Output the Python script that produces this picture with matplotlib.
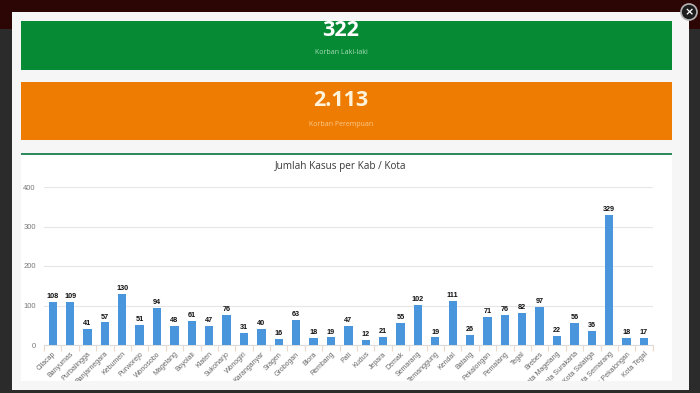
import matplotlib.pyplot as plt
from matplotlib.patches import Rectangle, Circle
from matplotlib.transforms import Bbox

kab_kota = ['Cilacap', 'Banyumas', 'Purbalingga', 'Banjarnegara', 'Kebumen', 'Purworejo', 'Wonosobo',
            'Magelang', 'Boyolali', 'Klaten', 'Sukoharjo', 'Wonogiri', 'Karanganyar', 'Sragen',
            'Grobogan', 'Blora', 'Rembang', 'Pati', 'Kudus', 'Jepara', 'Demak', 'Semarang',
            'Temanggung', 'Kendal', 'Batang', 'Pekalongan', 'Pemalang', 'Tegal', 'Brebes',
            'Kota Magelang', 'Kota Surakarta', 'Kota Salatiga', 'Kota Semarang', 'Kota Pekalongan',
            'Kota Tegal']
kasus = [108, 109, 41, 57, 130, 51, 94, 48, 61, 47, 76, 31, 40, 16, 63, 18, 19, 47, 12, 21, 55,
         102, 19, 111, 26, 71, 76, 82, 97, 22, 56, 36, 329, 18, 17]
y_ticks = [0, 100, 200, 300, 400]

W, H = 700, 393
fig = plt.figure(figsize=(W / 100, H / 100), dpi=100, facecolor='#2b2b2b')

# page behind the chart, in pixel coordinates
bg = fig.add_axes([0, 0, 1, 1])
bg.set_xlim(0, W)
bg.set_ylim(H, 0)
bg.axis('off')


def box(x, y, w, h, color, z=1):
    bg.add_patch(Rectangle((x, y), w, h, facecolor=color, edgecolor='none', zorder=z))


box(0, 0, W, 12, '#2c0604')
box(0, 12, 12, 17, '#2c0604')
box(689, 12, 11, 17, '#2c0604')
box(12, 12, 677, 378, '#f6f6f6', 2)
box(21, 21, 651, 49, '#068a34', 3)
box(21, 82, 651, 58, '#ee7c02', 3)
box(21, 155, 651, 226, '#ffffff', 3)
box(21, 152.5, 651, 2, '#2f8a5c', 4)

sans = ['Open Sans', 'DejaVu Sans']
bg.text(341, 31, '322', color='white', fontsize=15.5, fontweight='bold', family=sans,
        ha='center', va='center', zorder=5, clip_on=True,
        clip_box=Bbox([[21, H - 70], [672, H - 21]]))
bg.text(341, 52, 'Korban Laki-laki', color='#a8dcb8', fontsize=5, family=sans,
        ha='center', va='center', zorder=5)
bg.text(341, 101, '2.113', color='#fff3dc', fontsize=15.5, fontweight='bold', family=sans,
        ha='center', va='center', zorder=5)
bg.text(341, 124, 'Korban Perempuan', color='#fbc98a', fontsize=5, family=sans,
        ha='center', va='center', zorder=5)
bg.text(341, 166.5, 'Jumlah Kasus per Kab / Kota', color='#3a3a3a', fontsize=7.2, family=sans,
        ha='center', va='center', zorder=5)

bg.add_patch(Circle((689, 12), 8, facecolor='#1d1d1d', edgecolor='#b5b5b5', linewidth=1.2, zorder=6))
bg.text(689, 12, '×', color='white', fontsize=8, fontweight='bold', ha='center', va='center', zorder=7)

# chart
ax = fig.add_axes([44 / W, 1 - 345 / H, 608.7 / W, 158 / H], zorder=5)
ax.patch.set_alpha(0)
x = list(range(len(kasus)))
ax.bar(x, kasus, width=0.48, color='#4a96dc', zorder=3)
for xi, v in zip(x, kasus):
    ax.text(xi, v + 5, str(v), ha='center', va='bottom', fontsize=5.2, fontweight='bold',
            color='#111111', family='Liberation Sans', zorder=4)

ax.set_xlim(-0.5, len(kasus) - 0.5)
ax.set_ylim(0, 400)
for s in ['top', 'right', 'left']:
    ax.spines[s].set_visible(False)
ax.spines['bottom'].set_color('#dcdcdc')
ax.spines['bottom'].set_linewidth(0.8)

ax.set_yticks(y_ticks)
ax.tick_params(axis='y', length=0, labelsize=5.5, labelcolor='#777777', pad=6)
ax.grid(axis='y', color='#e6e6e6', linewidth=0.8, zorder=0)
ax.set_axisbelow(True)

ax.set_xticks(x)
ax.set_xticks([i - 0.5 for i in range(len(kasus) + 1)], minor=True)
ax.tick_params(axis='x', which='major', length=0, pad=4)
ax.tick_params(axis='x', which='minor', length=4, color='#edd8c8', width=0.8)
ax.set_xticklabels(kab_kota, rotation=45, ha='right', va='top', rotation_mode='anchor',
                   fontsize=5.0, color='#666666', family='Liberation Sans')

# long labels are cut off at the bottom of the white panel
panel = Bbox([[21, H - 381], [672, H - 155]])
for t in ax.get_xticklabels() + ax.get_yticklabels():
    t.set_family('Liberation Sans')
    t.set_clip_box(panel)
    t.set_clip_on(True)

fig.savefig('out.png', dpi=100, facecolor=fig.get_facecolor())
